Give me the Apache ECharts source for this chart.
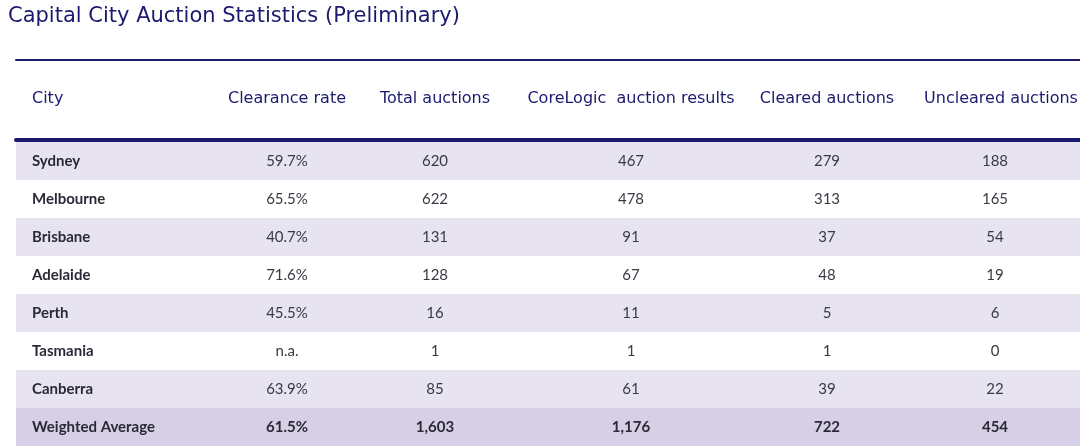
<!DOCTYPE html>
<html>
<head>
<meta charset="utf-8">
<title>Capital City Auction Statistics</title>
<script src="https://cdn.jsdelivr.net/npm/echarts@6/dist/echarts.min.js"></script>
<style>
  html, body { margin: 0; padding: 0; background: #fff; }
  #chart { width: 1080px; height: 446px; }
</style>
</head>
<body>
<div id="chart"></div>
<script>
// table data
const headers = ["City", "Clearance rate", "Total auctions", "CoreLogic  auction results", "Cleared auctions", "Uncleared auctions"];
const cities = ["Sydney", "Melbourne", "Brisbane", "Adelaide", "Perth", "Tasmania", "Canberra", "Weighted Average"];
const clearanceRate = [59.7, 65.5, 40.7, 71.6, 45.5, null, 63.9, 61.5];
const totalAuctions = [620, 622, 131, 128, 16, 1, 85, 1603];
const coreLogicResults = [467, 478, 91, 67, 11, 1, 61, 1176];
const clearedAuctions = [279, 313, 37, 48, 5, 1, 39, 722];
const unclearedAuctions = [188, 165, 54, 19, 6, 0, 22, 454];

// layout: x offset of each column inside the table (px from the left edge)
const colX = [16, 271, 419, 615, 811, 979];
const headX = [16, 271, 419, 615, 811, 985];

const navy = "#1b1a6e";
const rowFill = ["#e7e3f1", "#ffffff"];
const totalFill = "#d6cfe5";

function fmtRate(v) {
  return v == null ? "n.a." : v.toFixed(1) + "%";
}
function fmtNum(v) {
  return v.toLocaleString("en-US");
}

const chart = echarts.init(document.getElementById("chart"));

const hiddenX = (gridIndex, width) => ({
  type: "value",
  gridIndex: gridIndex,
  position: "top",
  min: 0,
  max: 1064,
  offset: gridIndex === 1 ? 2 : 0,
  axisLine: { show: true, onZero: false, lineStyle: { color: navy, width: width } },
  axisTick: { show: false },
  axisLabel: { show: false },
  splitLine: { show: false }
});

chart.setOption({
  animation: false,
  backgroundColor: "#fff",
  title: {
    text: "Capital City Auction Statistics (Preliminary)",
    left: 3,
    top: 1,
    textStyle: { fontFamily: "DejaVu Sans", fontWeight: "normal", fontSize: 21, color: navy }
  },
  grid: [
    { left: 16, right: 0, top: 60, height: 80 },
    { left: 16, right: 0, top: 142, height: 304 }
  ],
  xAxis: [hiddenX(0, 2), hiddenX(1, 4)],
  yAxis: [
    { type: "category", gridIndex: 0, data: ["head"], show: false },
    { type: "category", gridIndex: 1, data: cities, inverse: true, show: false }
  ],
  series: [
    {
      type: "custom",
      name: "header",
      xAxisIndex: 0,
      yAxisIndex: 0,
      data: [[0, "head"]],
      renderItem: function (params, api) {
        const cy = api.coord([0, 0])[1] - 1;
        return {
          type: "group",
          children: headers.map(function (h, j) {
            return {
              type: "text",
              x: api.coord([headX[j], 0])[0],
              y: cy,
              style: {
                text: h,
                fill: navy,
                font: "16px 'DejaVu Sans'",
                align: j === 0 ? "left" : "center",
                verticalAlign: "middle"
              }
            };
          })
        };
      }
    },
    {
      type: "custom",
      name: "rows",
      xAxisIndex: 1,
      yAxisIndex: 1,
      data: cities.map(function (c, i) { return [0, c]; }),
      renderItem: function (params, api) {
        const i = params.dataIndex;
        const cs = params.coordSys;
        const cy = api.coord([0, i])[1];
        const h = api.size([0, 1])[1];
        const isTotal = i === cities.length - 1;
        const cells = [
          cities[i],
          fmtRate(clearanceRate[i]),
          fmtNum(totalAuctions[i]),
          fmtNum(coreLogicResults[i]),
          fmtNum(clearedAuctions[i]),
          fmtNum(unclearedAuctions[i])
        ];
        const children = [{
          type: "rect",
          shape: { x: cs.x, y: cy - h / 2, width: cs.width, height: h },
          style: { fill: isTotal ? totalFill : rowFill[i % 2] }
        }];
        cells.forEach(function (t, j) {
          const bold = j === 0 || isTotal;
          children.push({
            type: "text",
            x: api.coord([colX[j], i])[0],
            y: cy,
            style: {
              text: t,
              fill: bold ? "#2a2a36" : "#3a3a44",
              font: (bold ? "bold " : "") + "15px Lato",
              align: j === 0 ? "left" : "center",
              verticalAlign: "middle"
            }
          });
        });
        return { type: "group", children: children };
      }
    }
  ]
});
</script>
</body>
</html>
